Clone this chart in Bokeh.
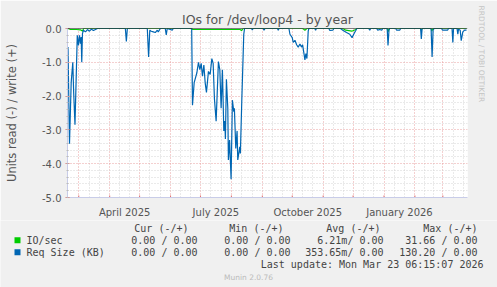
import datetime as dt
from bokeh.plotting import figure
from bokeh.layouts import column
from bokeh.models import Range1d, FixedTicker, Span, Title
from bokeh.core.properties import value
from bokeh.embed import file_html
from bokeh.resources import INLINE

# ---- data (x = days since 2025-03-01, values in units; read plotted negative) ----
req_day = [-10.8, -9.3, -7.6, -6.0, -5.1, -3.8, -1.5, -0.3, 0.7, 1.7, 2.4, 3.0, 3.7, 4.7, 6.7, 8.7,
           10.7, 12.7, 14.7, 16.7, 18.7, 46.7, 47.7, 48.7, 68.7, 70.0, 71.2, 72.7, 74.7, 76.7, 78.7,
           79.7, 81.7, 86.7, 87.7, 88.7, 93.7, 94.7, 113.2, 114.0, 115.7, 118.4, 120.0, 121.4, 122.7,
           124.0, 125.4, 126.7, 128.0, 130.0, 131.7, 133.4, 134.7, 136.0, 137.7, 140.0, 141.4, 142.7,
           144.0, 145.4, 146.4, 147.0, 148.0, 149.4, 150.0, 151.2, 152.7, 154.0, 155.4, 156.0, 157.4,
           158.7, 159.4, 161.4, 162.0, 163.4, 165.4, 166.2, 173.2, 174.0, 174.7, 185.0, 185.7, 186.7,
           199.2, 200.0, 200.7, 210.7, 211.7, 214.0, 215.0, 216.7, 218.4, 220.0, 221.7, 223.4, 224.4,
           226.0, 226.7, 227.7, 228.7, 230.0, 230.7, 236.7, 237.4, 238.2, 250.7, 251.7, 254.7, 255.7,
           262.4, 264.7, 268.4, 271.7, 274.0, 276.0, 277.7, 278.7, 290.7, 291.7, 292.7, 298.7, 299.7,
           301.7, 303.7, 304.7, 309.2, 310.0, 311.0, 311.7, 317.7, 318.7, 321.7, 322.7, 342.7, 343.4,
           344.2, 353.2, 354.2, 355.2, 356.2, 363.7, 364.7, 369.7, 370.7, 374.2, 375.0, 375.7, 379.2,
           380.0, 380.7, 382.4, 383.4, 385.0, 386.7, 388.7]
req_val = [-0.55, -3.41, -1.6, -1.0, -1.9, -2.85, -0.2, -0.5, -0.2, -0.45, -0.25, -1.0, -0.15, -0.05,
           -0.1, -0.03, -0.08, -0.02, -0.06, -0.03, 0.0, 0.0, -0.38, 0.0, 0.0, -0.84, -0.05, -0.08,
           -0.1, -0.12, -0.05, -0.1, 0.0, 0.0, -0.19, 0.0, -0.05, 0.0, 0.0, -2.27, -1.6, -1.31, -1.0,
           -1.22, -1.03, -1.41, -1.08, -1.6, -1.89, -1.27, -1.36, -0.89, -1.03, -2.08, -2.74, -0.98,
           -1.22, -2.36, -1.22, -3.03, -2.74, -3.27, -1.5, -2.36, -3.89, -3.3, -4.46, -2.12, -2.46,
           -2.36, -3.55, -3.03, -3.89, -3.5, -3.7, -2.17, -0.17, 0.0, 0.0, -0.04, 0.0, 0.0, -0.05, 0.0,
           0.0, -0.05, 0.0, 0.0, -0.17, -0.27, -0.41, -0.35, -0.48, -0.55, -0.46, -0.55, -0.48, -0.79,
           -0.93, -0.74, -0.89, -0.08, 0.0, 0.0, -0.05, 0.0, 0.0, -0.06, -0.05, 0.0, 0.0, -0.05, -0.12,
           -0.17, -0.27, -0.15, -0.06, 0.0, 0.0, -0.05, 0.0, 0.0, -0.05, -0.03, -0.05, 0.0, 0.0, -0.5,
           -0.05, 0.0, 0.0, -0.05, -0.05, 0.0, 0.0, -0.31, 0.0, 0.0, -0.84, -0.05, 0.0, 0.0, -0.05,
           -0.05, 0.0, 0.0, -0.41, 0.0, 0.0, -0.17, -0.02, -0.05, -0.36, -0.1, -0.05, -0.05]

io_day = [-10.8, -8.3, -2.3, 1.7, 4.0, 4.7, 113.2, 114.2, 161.7, 163.2, 164.7, 224.7, 226.7, 228.7,
          264.7, 267.7, 273.7, 277.7, 278.7, 309.2, 310.0, 311.0, 342.7, 343.4, 344.2, 353.2, 354.0,
          354.7, 388.7]
io_val = [0.0, -0.03, -0.03, -0.04, -0.08, 0.0, 0.0, -0.03, -0.03, -0.06, 0.0, 0.0, -0.05, 0.0,
          0.0, -0.05, -0.08, -0.03, 0.0, 0.0, -0.1, 0.0, 0.0, -0.05, 0.0, 0.0, -0.08, 0.0, 0.0]

y_ticks = [0.0, -1.0, -2.0, -3.0, -4.0, -5.0]
x_tick_labels = ["April 2025", "July 2025", "October 2025", "January 2026"]
legend_names = ["IO/sec", "Req Size (KB)"]
legend_cur = ["0.00 / 0.00", "0.00 / 0.00"]
legend_min = ["0.00 / 0.00", "0.00 / 0.00"]
legend_avg = ["6.21m/ 0.00", "353.65m/ 0.00"]
legend_max = ["31.66 / 0.00", "130.20 / 0.00"]
colors = ["#00cc00", "#0066b3"]

# ---- calendar helpers ----
base = dt.date(2025, 3, 1)
def dd(y, m, d=1):
    return (dt.date(y, m, d) - base).days

month_starts = [dd(2025, m) for m in range(3, 13)] + [dd(2026, m) for m in range(1, 5)]
label_pos = [dd(2025, 4) + 15.0, dd(2025, 7) + 15.5, dd(2025, 10) + 15.5, dd(2026, 1) + 15.5]
minor_x = [dd(2025, 2, 18)]
for a, b in zip(month_starts[:-1], month_starts[1:]):
    minor_x += [a + (b - a) / 3.0, a + 2 * (b - a) / 3.0]

X0, X1 = -11.3, 389.7
W, H = 497, 287
FL, FR, FT, FB = 67, 468, 28, 203
H1 = 220  # height of the chart part; the legend part fills the rest

p = figure(width=W, height=H1, output_backend="svg", toolbar_location=None,
           x_range=Range1d(X0, X1), y_range=Range1d(-5.0, 0.0),
           min_border_left=FL, min_border_right=W - FR, min_border_top=FT, min_border_bottom=H1 - FB)
p.frame_align = False
p.border_fill_color = "#f0f0f0"
p.background_fill_color = "#ffffff"
p.outline_line_color = None

p.title.text = "IOs for /dev/loop4 - by year"
p.title.align = "center"
p.title.text_font = "DejaVu Sans"
p.title.text_font_size = "12.5px"
p.title.text_font_style = "normal"
p.title.text_color = "#555555"
p.title.standoff = 3

p.add_layout(Title(text="RRDTOOL / TOBI OETIKER", align="left", text_font="DejaVu Sans",
                   text_font_size="7.5px", text_font_style="normal", text_color="#c4c4c4",
                   standoff=19, offset=-23), "right")

AX = "#c8cce8"
# y axis
p.yaxis.ticker = FixedTicker(ticks=y_ticks, minor_ticks=[-0.2 * i for i in range(26)])
p.yaxis.major_label_overrides = {v: f"{v:.1f}" for v in y_ticks}
p.yaxis.major_label_text_font = "DejaVu Sans"
p.yaxis.major_label_text_font_size = "10px"
p.yaxis.major_label_text_color = "#555555"
p.yaxis.major_tick_line_color = "#e08080"
p.yaxis.major_tick_in = 2
p.yaxis.major_tick_out = 2
p.yaxis.minor_tick_line_color = "#bbbbbb"
p.yaxis.minor_tick_in = 1
p.yaxis.minor_tick_out = 1
p.yaxis.major_label_standoff = 4
p.yaxis.axis_line_color = AX
p.yaxis.axis_label = "Units read (-) / write (+)"
p.yaxis.axis_label_text_font = "DejaVu Sans"
p.yaxis.axis_label_text_font_size = "11.5px"
p.yaxis.axis_label_text_font_style = "normal"
p.yaxis.axis_label_text_color = "#555555"
p.yaxis.axis_label_standoff = 20
# x axis
p.xaxis.ticker = FixedTicker(ticks=label_pos)
p.xaxis.major_label_overrides = {v: t for v, t in zip(label_pos, x_tick_labels)}
p.xaxis.major_label_text_font = "DejaVu Sans"
p.xaxis.major_label_text_font_size = "10px"
p.xaxis.major_label_text_color = "#555555"
p.xaxis.major_tick_line_color = None
p.xaxis.minor_tick_line_color = None
p.xaxis.major_label_standoff = 3
p.xaxis.axis_line_color = AX

# grids
p.xgrid.ticker = FixedTicker(ticks=month_starts, minor_ticks=minor_x)
p.xgrid.grid_line_color = "#e8a0a0"
p.xgrid.grid_line_dash = "1 2"
p.xgrid.minor_grid_line_color = "#d4d4d4"
p.xgrid.minor_grid_line_dash = "1 2"
p.ygrid.ticker = FixedTicker(ticks=[-1.0, -2.0, -3.0, -4.0],
                             minor_ticks=[-0.2 * i for i in range(1, 25) if i % 5])
p.ygrid.grid_line_color = "#e8a0a0"
p.ygrid.grid_line_dash = "1 2"
p.ygrid.minor_grid_line_color = "#d4d4d4"
p.ygrid.minor_grid_line_dash = "1 2"

# month tick marks (red) on the bottom axis
p.segment(x0=month_starts, x1=month_starts, y0=[-5.0] * len(month_starts),
          y1=[-4.94] * len(month_starts), line_color="#e07070", line_width=1)

# series
p.line(io_day, io_val, line_color=colors[0], line_width=1.2)
p.line(req_day, req_val, line_color=colors[1], line_width=1.2)
p.add_layout(Span(location=0.0, dimension="width", line_color="#000000", line_width=1))

# ---- legend / footer part (coordinates in pixels of this part) ----
H2 = H - H1
f = figure(width=W, height=H2, output_backend="svg", toolbar_location=None,
           x_range=Range1d(0, W), y_range=Range1d(H2, 0), min_border=0)
f.frame_align = False
f.axis.visible = False
f.grid.visible = False
f.outline_line_color = None
f.border_fill_color = "#f0f0f0"
f.background_fill_color = "#f0f0f0"

MONO = value("DejaVu Sans Mono")
def T(cx, cy, text, size="10px", font=MONO, color="#444444", align="left"):
    f.text(x=[cx], y=[cy - H1], text=[text], text_font=font, text_font_size=size,
           text_color=color, text_align=align, text_baseline="middle")

hdr_y = 227.5
T(188, hdr_y, "Cur (-/+)", align="right")
T(283, hdr_y, "Min (-/+)", align="right")
T(380, hdr_y, "Avg (-/+)", align="right")
T(477, hdr_y, "Max (-/+)", align="right")
row_y = [239.7, 251.7]
f.rect(x=[17, 17], y=[ry - H1 for ry in row_y], width=6, height=6, fill_color=colors,
       line_color=None)
for i, ry in enumerate(row_y):
    T(26, ry, legend_names[i])
    T(197, ry, legend_cur[i], align="right")
    T(290, ry, legend_min[i], align="right")
    T(383, ry, legend_avg[i], align="right")
    T(477, ry, legend_max[i], align="right")
T(483, 263.5, "Last update: Mon Mar 23 06:15:07 2026", align="right")
T(248, 276.5, "Munin 2.0.76", size="7.5px", font=value("DejaVu Sans"), color="#bbbbbb",
  align="center")

open("out.html", "w").write(file_html(column(p, f, spacing=0), INLINE))
